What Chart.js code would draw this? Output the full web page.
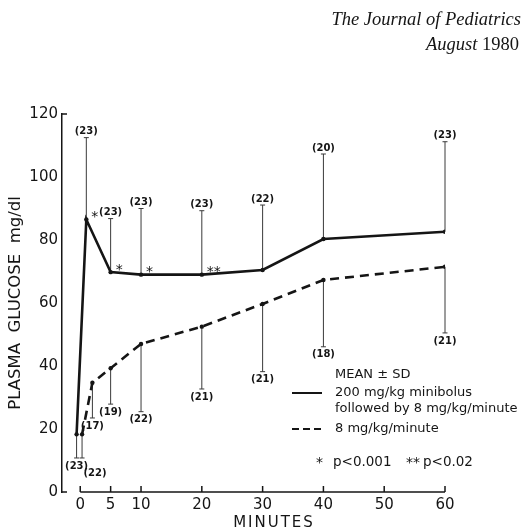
<!DOCTYPE html>
<html><head><meta charset="utf-8">
<script src="https://cdn.jsdelivr.net/npm/chart.js@4.4.1/dist/chart.umd.min.js"></script>
<style>html,body{margin:0;padding:0;background:#fff}canvas{display:block}</style>
</head><body>
<canvas id="c" width="524" height="531"></canvas>
<script>
// ---- data ----
const xTicks = [0, 5, 10, 20, 30, 40, 50, 60];
const yTicks = [0, 20, 40, 60, 80, 100, 120];
const bolusTime = [-0.6, 1, 5, 10, 20, 30, 40, 60];
const bolusMean = [18.3, 86.5, 69.8, 69.0, 69.0, 70.5, 80.3, 82.6];
const bolusSD   = [7.5, 26.0, 17.0, 21.0, 20.3, 20.6, 27.0, 28.6];
const bolusSDDir = [-1, 1, 1, 1, 1, 1, 1, 1];
const bolusN    = [23, 23, 23, 23, 23, 22, 20, 23];
const bolusSig  = ['', '*', '*', '*', '**', '', '', ''];
const infTime = [0.3, 2, 5, 10, 20, 30, 40, 60];
const infMean = [18.3, 34.7, 39.3, 47.0, 52.5, 59.7, 67.3, 71.5];
const infSD   = [7.5, 11.2, 11.4, 21.5, 19.8, 21.5, 21.2, 21.0];
const infSDDir = [-1, -1, -1, -1, -1, -1, -1, -1];
const infN    = [22, 17, 19, 22, 21, 21, 18, 21];
const seriesLabels = ['200 mg/kg minibolus', 'followed by 8 mg/kg/minute', '8 mg/kg/minute'];
const legendTitle = 'MEAN \u00B1 SD';
const sigNotes = ['*', 'p<0.001', '**', 'p<0.02'];
const yTitle = 'PLASMA  GLUCOSE  mg/dl';
const xTitle = 'MINUTES';
const header = ['The Journal of Pediatrics', 'August', '1980'];

const FONT = '"DejaVu Sans", "Liberation Sans", sans-serif';
const SERIF = '"Liberation Serif", "DejaVu Serif", serif';
const INK = '#151515';

const seriesMeta = [
  {time: bolusTime, mean: bolusMean, sd: bolusSD, dir: bolusSDDir, n: bolusN, sig: bolusSig},
  {time: infTime, mean: infMean, sd: infSD, dir: infSDDir, n: infN, sig: null}
];

const deco = {
  id: 'deco',
  beforeDraw(chart) {
    const ctx = chart.ctx;
    ctx.save();
    ctx.fillStyle = '#fff';
    ctx.fillRect(0, 0, chart.width, chart.height);
    ctx.restore();
  },
  beforeDatasetsDraw(chart) {
    const {ctx, scales: {x, y}} = chart;
    ctx.save();
    ctx.strokeStyle = INK;
    // x axis (starts at 0, broken from the y axis)
    const y0 = y.getPixelForValue(0);
    ctx.lineWidth = 1.5;
    ctx.beginPath();
    ctx.moveTo(x.getPixelForValue(xTicks[0]), y0);
    ctx.lineTo(x.getPixelForValue(xTicks[xTicks.length - 1]), y0);
    ctx.stroke();
    xTicks.forEach(v => {
      const px = x.getPixelForValue(v);
      ctx.beginPath(); ctx.moveTo(px, y0); ctx.lineTo(px, y0 - 6); ctx.stroke();
    });
    // y axis end hooks
    const xl = x.left;
    [yTicks[0], yTicks[yTicks.length - 1]].forEach(v => {
      const py = y.getPixelForValue(v);
      ctx.beginPath(); ctx.moveTo(xl, py); ctx.lineTo(xl + 5, py); ctx.stroke();
    });
    // error bars
    ctx.lineWidth = 1;
    ctx.strokeStyle = '#3a3a3a';
    seriesMeta.forEach(s => {
      s.time.forEach((t, i) => {
        const px = x.getPixelForValue(t);
        const pm = y.getPixelForValue(s.mean[i]);
        const pe = y.getPixelForValue(s.mean[i] + s.dir[i] * s.sd[i]);
        ctx.beginPath(); ctx.moveTo(px, pm); ctx.lineTo(px, pe); ctx.stroke();
        ctx.beginPath(); ctx.moveTo(px - 2.5, pe); ctx.lineTo(px + 2.5, pe); ctx.stroke();
      });
    });
    ctx.restore();
  },
  afterDatasetsDraw(chart) {
    const {ctx, scales: {x, y}} = chart;
    ctx.save();
    ctx.fillStyle = INK;
    ctx.textAlign = 'center';
    ctx.textBaseline = 'middle';
    // counts
    ctx.font = '600 10px ' + FONT;
    seriesMeta.forEach((s, si) => {
      s.time.forEach((t, i) => {
        let px = x.getPixelForValue(t);
        const pe = y.getPixelForValue(s.mean[i] + s.dir[i] * s.sd[i]);
        let py = s.dir[i] > 0 ? pe - 6 : pe + 8;
        if (si === 1 && i === 0) { px += 13; py += 7; }
        ctx.fillText('(' + s.n[i] + ')', px, py);
      });
    });
    // significance stars
    ctx.font = '14px ' + FONT;
    ctx.textAlign = 'left';
    bolusSig.forEach((m, i) => {
      if (!m) return;
      const px = x.getPixelForValue(bolusTime[i]);
      const py = y.getPixelForValue(bolusMean[i]);
      ctx.fillText(m, px + 5, py - 2);
    });
    // legend
    ctx.font = '13px ' + FONT;
    ctx.fillText(legendTitle, 335, 375);
    ctx.fillText(seriesLabels[0], 335, 393);
    ctx.fillText(seriesLabels[1], 335, 409);
    ctx.fillText(seriesLabels[2], 335, 429);
    ctx.strokeStyle = INK;
    ctx.lineWidth = 2;
    ctx.beginPath(); ctx.moveTo(292, 393); ctx.lineTo(322, 393); ctx.stroke();
    ctx.setLineDash([7, 4]);
    ctx.beginPath(); ctx.moveTo(292, 429); ctx.lineTo(322, 429); ctx.stroke();
    ctx.setLineDash([]);
    ctx.font = '14px ' + FONT;
    ctx.fillText(sigNotes[0], 316, 463);
    ctx.fillText(sigNotes[2], 406, 463);
    ctx.font = '13.5px ' + FONT;
    ctx.fillText(sigNotes[1], 333, 462);
    ctx.fillText(sigNotes[3], 423, 462);
    // x title
    ctx.font = '15px ' + FONT;
    ctx.textAlign = 'center';
    ctx.letterSpacing = '2px';
    ctx.fillText(xTitle, 274, 523);
    ctx.letterSpacing = '0px';
    // header
    ctx.textAlign = 'right';
    ctx.textBaseline = 'alphabetic';
    ctx.font = 'italic 18.5px ' + SERIF;
    ctx.fillText(header[0], 521, 25);
    ctx.font = '18.5px ' + SERIF;
    const w1980 = ctx.measureText(' ' + header[2]).width;
    ctx.fillText(header[2], 519, 50);
    ctx.font = 'italic 18.5px ' + SERIF;
    ctx.fillText(header[1], 519 - w1980, 50);
    ctx.restore();
  }
};

new Chart(document.getElementById('c'), {
  type: 'line',
  data: {
    datasets: [
      {
        label: seriesLabels[0] + ' ' + seriesLabels[1],
        data: bolusTime.map((t, i) => ({x: t, y: bolusMean[i]})),
        borderColor: INK, backgroundColor: INK,
        borderWidth: 2.6, pointRadius: 2.2, pointBorderWidth: 0,
        tension: 0, fill: false
      },
      {
        label: seriesLabels[2],
        data: infTime.map((t, i) => ({x: t, y: infMean[i]})),
        borderColor: INK, backgroundColor: INK,
        borderWidth: 2.6, borderDash: [9, 6], pointRadius: 2.2, pointBorderWidth: 0,
        tension: 0, fill: false
      }
    ]
  },
  options: {
    responsive: false,
    animation: false,
    events: [],
    layout: {padding: {top: 114, right: 79, left: 0, bottom: 0}},
    plugins: {legend: {display: false}, tooltip: {enabled: false}, title: {display: false}},
    scales: {
      x: {
        type: 'linear', min: -3, max: 60,
        afterBuildTicks: s => { s.ticks = xTicks.map(v => ({value: v})); },
        afterFit: s => { s.height = 39; },
        grid: {display: false, drawTicks: false},
        border: {display: false},
        ticks: {color: INK, font: {family: FONT, size: 15}, padding: 4, maxRotation: 0, autoSkip: false}
      },
      y: {
        type: 'linear', min: 0, max: 120,
        afterBuildTicks: s => { s.ticks = yTicks.map(v => ({value: v})); },
        afterFit: s => { s.width = 62; },
        grid: {display: false, drawTicks: false},
        border: {display: true, color: INK, width: 1.5},
        ticks: {color: INK, font: {family: FONT, size: 15}, padding: 4},
        title: {display: true, text: yTitle, color: INK, font: {family: FONT, size: 16.5}, padding: {top: 6, bottom: 0}}
      }
    }
  },
  plugins: [deco]
});
</script>
</body></html>
